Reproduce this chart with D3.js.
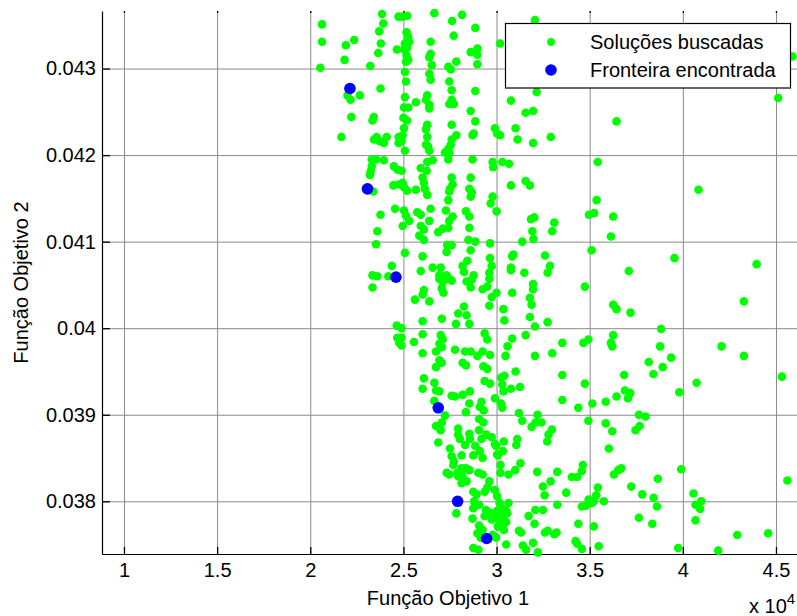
<!DOCTYPE html>
<html><head><meta charset="utf-8">
<script src="https://cdn.jsdelivr.net/npm/d3@7/dist/d3.min.js"></script>
<style>
body{margin:0;background:#fff}
svg{display:block}
text{font-family:"Liberation Sans",Arial,Helvetica,sans-serif}
</style>
</head><body>
<svg id="chart" width="797" height="616"></svg>
<script>
// Função Objetivo 1 values are in units of 10^4 (axis shows "x 10^4")
const solucoesX = [
2.063,2.063,2.054,2.191,2.236,2.184,2.322,2.385,2.392,2.370,2.379,2.365,2.465,2.474,2.200,2.216,2.266,2.377,2.220,2.341,
2.334,2.167,2.356,2.342,2.373,2.395,2.410,2.474,2.474,2.330,2.353,2.395,2.330,2.324,2.320,2.449,2.469,2.338,2.446,2.475,
2.455,2.377,2.360,2.353,2.438,2.334,2.360,2.419,2.334,2.464,2.467,2.478,
2.520,2.496,2.666,2.815,2.761,2.886,2.770,2.517,2.526,2.531,2.508,2.520,2.503,2.517,2.526,2.514,2.646,2.646,2.639,2.652,
2.861,2.897,2.897,2.897,2.784,2.741,2.754,2.508,2.514,2.639,2.646,2.746,2.759,2.759,2.746,2.771,2.886,2.508,2.503,2.526,
2.567,2.628,2.621,2.639,2.639,2.861,2.886,2.500,2.520,2.503,2.496,2.490,2.508,2.628,2.621,2.628,2.621,2.633,2.639,2.759,
2.784,2.759,2.754,2.741,2.723,2.746,2.741,2.871,2.877,2.991,3.003,2.871,2.979,2.982,2.657,2.628,2.625,2.593,2.490,2.496,
2.503,2.520,2.567,2.603,2.610,2.615,2.628,2.759,2.764,2.750,2.746,2.861,2.854,2.867,2.861,2.741,2.979,2.968,3.000,2.503,
2.514,2.496,2.574,2.593,2.531,2.646,2.728,2.836,2.854,2.639,2.593,2.610,2.585,2.610,2.764,2.746,2.741,2.711,2.687,2.854,
2.849,2.886,2.965,2.735,2.759,2.732,2.861,2.508,2.603,2.843,2.818,2.825,2.965,2.974,2.961,2.657,2.700,2.593,2.693,2.732,
2.877,
2.562,2.603,2.610,2.639,2.693,2.711,2.715,2.706,2.746,2.759,2.839,2.867,2.861,2.925,2.950,2.961,2.974,2.961,2.603,2.603,
2.556,2.603,2.706,2.794,2.825,2.839,2.782,2.854,2.936,2.950,2.490,2.490,2.490,2.700,2.711,2.693,2.706,2.675,2.777,2.831,
2.861,2.897,2.925,2.965,2.818,2.836,2.693,2.706,2.675,2.929,2.950,2.610,2.603,2.666,2.675,2.693,2.936,2.965,2.991,2.759,
2.777,2.818,2.857,2.854,2.836,2.666,2.919,2.910,2.931,2.906,2.929,2.723,2.706,2.675,2.700,2.794,2.794,2.803,2.854,2.857,
2.831,2.906,2.919,2.945,2.974,2.991,2.687,2.750,2.759,2.886,2.875,2.925,2.910,3.003,2.812,2.771,2.812,2.836,2.854,2.812,
2.794,2.821,2.839,2.746,2.732,2.768,2.790,2.812,2.902,2.925,2.961,2.950,2.936,2.875,2.893,2.880,2.906,2.875,2.991,3.003,
2.784,2.943,2.965,2.974,2.936,3.003,2.991,3.009,2.871,2.906,2.925,2.897,2.915,2.875,2.902,2.979,
3.206,3.019,3.215,3.077,3.156,3.196,3.019,3.102,3.113,3.196,3.291,3.644,3.031,3.067,3.543,3.077,3.156,3.179,3.537,3.496,
3.524,3.626,3.614,3.185,3.203,3.310,3.299,3.192,3.198,3.138,3.510,3.090,3.084,3.077,3.077,3.260,3.287,3.274,3.149,
3.000,3.084,3.196,3.196,3.179,3.188,3.474,3.626,3.644,3.037,3.042,3.179,3.206,3.274,3.084,3.059,3.048,3.156,3.353,3.299,
3.206,3.466,3.493,3.614,3.621,3.626,3.024,3.042,3.031,3.037,3.077,3.126,3.102,3.353,3.474,3.024,3.031,3.353,3.439,3.514,
3.586,3.644,3.685,3.689,3.120,3.138,3.188,3.220,3.241,3.209,3.493,3.586,3.621,3.603,3.279,3.297,3.272,3.039,3.111,3.106,
2.998,3.007,3.034,3.021,3.021,3.064,3.100,3.128,3.218,3.326,3.290,3.249,3.258,3.374,3.404,3.433,3.458,3.463,3.544,3.535,
3.522,3.494,3.512,3.576,3.481,3.458,3.064,3.016,3.028,3.052,3.016,3.057,3.034,3.052,3.016,3.039,2.998,3.007,3.172,3.208,
3.249,3.204,3.326,3.120,3.132,3.260,3.274,3.310,3.322,3.439,3.424,3.433,3.458,3.522,3.052,3.141,3.159,3.196,3.222,3.548,
3.630,3.653,
4.589,4.512,4.084,3.955,3.710,4.396,4.328,3.719,3.883,3.878,3.937,3.817,3.892,3.842,4.208,4.328,4.074,3.981,3.718,3.705,
4.532,3.764,3.800,3.768,3.746,3.669,3.991,3.866,3.723,3.782,3.843,3.861,4.057,4.068,4.093,4.099,4.068,4.561,3.764,3.836,
4.292,4.458,3.975,4.190
];
const solucoesY = [
0.04351,0.04331,0.04301,0.04327,0.04333,0.04310,0.04303,0.04363,0.04352,0.04343,0.04329,0.04318,0.04322,0.04360,0.04269,0.04264,0.04269,0.04277,0.04244,0.04244,
0.04240,0.04221,0.04221,0.04218,0.04216,0.04214,0.04221,0.04221,0.04214,0.04195,0.04195,0.04194,0.04187,0.04181,0.04177,0.04187,0.04183,0.04158,0.04165,0.04166,
0.04138,0.04131,0.04112,0.04097,0.04072,0.04061,0.04060,0.04060,0.04047,0.04003,0.03989,0.03983,
0.04361,0.04360,0.04364,0.04362,0.04355,0.04347,0.04338,0.04342,0.04336,0.04331,0.04329,0.04324,0.04322,0.04315,0.04310,0.04308,0.04331,0.04317,0.04313,0.04304,
0.04319,0.04323,0.04316,0.04305,0.04308,0.04302,0.04299,0.04296,0.04285,0.04294,0.04287,0.04285,0.04275,0.04264,0.04259,0.04259,0.04274,0.04267,0.04255,0.04255,
0.04261,0.04269,0.04264,0.04258,0.04254,0.04251,0.04239,0.04243,0.04240,0.04231,0.04223,0.04216,0.04205,0.04235,0.04230,0.04221,0.04212,0.04210,0.04205,0.04235,
0.04223,0.04218,0.04212,0.04207,0.04203,0.04202,0.04195,0.04223,0.04225,0.04231,0.04225,0.04195,0.04192,0.04186,0.04194,0.04192,0.04182,0.04185,0.04182,0.04168,
0.04163,0.04159,0.04160,0.04174,0.04168,0.04161,0.04154,0.04174,0.04166,0.04161,0.04158,0.04174,0.04161,0.04157,0.04152,0.04148,0.04152,0.04144,0.04135,0.04136,
0.04130,0.04118,0.04134,0.04131,0.04124,0.04138,0.04136,0.04135,0.04129,0.04124,0.04118,0.04114,0.04107,0.04102,0.04129,0.04124,0.04116,0.04115,0.04111,0.04116,
0.04102,0.04100,0.04098,0.04096,0.04096,0.04088,0.04090,0.04087,0.04083,0.04078,0.04072,0.04065,0.04081,0.04072,0.04064,0.04070,0.04070,0.04066,0.04061,0.04061,
0.04061,
0.04033,0.04039,0.04044,0.04031,0.04057,0.04053,0.04041,0.04046,0.04057,0.04055,0.04054,0.04056,0.04047,0.04045,0.04048,0.04057,0.04036,0.04026,0.04008,0.03993,
0.03984,0.03971,0.04011,0.04017,0.04025,0.04015,0.04005,0.04005,0.03994,0.03987,0.04000,0.03989,0.03980,0.03992,0.03987,0.03982,0.03978,0.03973,0.03975,0.03973,
0.03973,0.03968,0.03973,0.03969,0.03960,0.03957,0.03963,0.03960,0.03955,0.03956,0.03953,0.03942,0.03930,0.03937,0.03928,0.03927,0.03939,0.03936,0.03919,0.03922,
0.03921,0.03923,0.03927,0.03913,0.03903,0.03916,0.03915,0.03909,0.03905,0.03895,0.03891,0.03899,0.03891,0.03887,0.03882,0.03884,0.03877,0.03872,0.03878,0.03872,
0.03865,0.03882,0.03872,0.03877,0.03874,0.03866,0.03868,0.03861,0.03852,0.03864,0.03853,0.03850,0.03858,0.03854,0.03853,0.03846,0.03838,0.03838,0.03836,0.03833,
0.03829,0.03826,0.03823,0.03831,0.03833,0.03842,0.03833,0.03821,0.03833,0.03831,0.03823,0.03816,0.03811,0.03811,0.03808,0.03800,0.03796,0.03792,0.03813,0.03806,
0.03786,0.03790,0.03787,0.03779,0.03783,0.03789,0.03781,0.03771,0.03780,0.03772,0.03767,0.03763,0.03758,0.03746,0.03744,0.03761,
0.04356,0.04329,0.04273,0.04263,0.04249,0.04251,0.04223,0.04231,0.04218,0.04214,0.04221,0.04239,0.04192,0.04190,0.04192,0.04165,0.04170,0.04165,0.04148,0.04131,
0.04133,0.04129,0.04106,0.04126,0.04128,0.04122,0.04112,0.04112,0.04103,0.04100,0.04090,0.04085,0.04083,0.04070,0.04067,0.04084,0.04072,0.04064,0.04064,
0.04041,0.04041,0.04051,0.04045,0.04035,0.04027,0.04048,0.04027,0.04022,0.04022,0.04009,0.04013,0.04002,0.04007,0.03988,0.03979,0.03968,0.03992,0.03983,0.03971,
0.03968,0.03983,0.03987,0.03983,0.03979,0.03992,0.03943,0.03945,0.03935,0.03927,0.03930,0.03932,0.03950,0.03946,0.03936,0.03913,0.03908,0.03917,0.03908,0.03913,
0.03915,0.03921,0.03946,0.03928,0.03902,0.03893,0.03886,0.03900,0.03891,0.03891,0.03893,0.03890,0.03881,0.03861,0.03877,0.03883,0.03869,0.03869,0.03872,0.03865,
0.03864,0.03853,0.03858,0.03842,0.03833,0.03831,0.03836,0.03844,0.03834,0.03834,0.03823,0.03817,0.03807,0.03810,0.03828,0.03828,0.03835,0.03842,0.03816,0.03807,
0.03800,0.03802,0.03798,0.03800,0.03795,0.03794,0.03798,0.03798,0.03792,0.03789,0.03785,0.03786,0.03779,0.03776,0.03773,0.03767,0.03758,0.03771,0.03783,0.03790,
0.03790,0.03774,0.03796,0.03766,0.03764,0.03764,0.03766,0.03762,0.03764,0.03774,0.03754,0.03751,0.03745,0.03771,0.03750,0.03749,0.03744,0.03752,0.03741,0.03748,
0.03831,0.03836,
0.04314,0.04266,0.04160,0.04081,0.04066,0.04074,0.04031,0.04018,0.03999,0.03979,0.03966,0.03961,0.03955,0.03947,0.03979,0.03968,0.03937,0.03926,0.03925,0.03919,
0.03944,0.03900,0.03898,0.03887,0.03882,0.03838,0.03837,0.03826,0.03817,0.03808,0.03804,0.03794,0.03809,0.03796,0.03791,0.03800,0.03778,0.03824,0.03781,0.03774,
0.03761,0.03763,0.03746,0.03743
];
const fronteiraX = [2.213, 2.307, 2.460, 2.687, 2.791, 2.947];
const fronteiraY = [0.04277, 0.04161, 0.04059, 0.03908, 0.03800, 0.03757];

const xTicks = [1, 1.5, 2, 2.5, 3, 3.5, 4, 4.5];
const xTickLabels = ["1", "1.5", "2", "2.5", "3", "3.5", "4", "4.5"];
const yTicks = [0.038, 0.039, 0.040, 0.041, 0.042, 0.043];
const yTickLabels = ["0.038", "0.039", "0.04", "0.041", "0.042", "0.043"];
const xLimits = [0.882, 4.629];
const yLimits = [0.037391, 0.043665];
const seriesNames = ["Soluções buscadas", "Fronteira encontrada"];
const seriesColors = ["#00ff00", "#0000ff"];

(function () {
const svg = d3.select("#chart");
const W = 797, H = 616;
const pL = 102, pR = 800, pT = 11, pB = 554;
const FONT = 20;

svg.append("rect").attr("width", W).attr("height", H).attr("fill", "#fff");

const x = d3.scaleLinear().domain(xLimits).range([pL, pR]);
const y = d3.scaleLinear().domain(yLimits).range([pB, pT]);

// grid
const gridX = svg.append("g").attr("transform", `translate(0,${pB})`)
  .call(d3.axisBottom(x).tickValues(xTicks).tickSize(-(pB - pT)).tickFormat(""));
gridX.select(".domain").remove();
gridX.selectAll("line").attr("stroke", "#8a8a8a").attr("stroke-width", 1);
const gridY = svg.append("g").attr("transform", `translate(${pL},0)`)
  .call(d3.axisLeft(y).tickValues(yTicks).tickSize(-(pR - pL)).tickFormat(""));
gridY.select(".domain").remove();
gridY.selectAll("line").attr("stroke", "#8a8a8a").attr("stroke-width", 1);

// axes
const xAxis = svg.append("g").attr("transform", `translate(0,${pB})`)
  .call(d3.axisBottom(x).tickValues(xTicks).tickFormat((d, i) => xTickLabels[i])
    .tickSizeInner(-7).tickSizeOuter(0).tickPadding(9));
const yAxis = svg.append("g").attr("transform", `translate(${pL},0)`)
  .call(d3.axisLeft(y).tickValues(yTicks).tickFormat((d, i) => yTickLabels[i])
    .tickSizeInner(-8).tickSizeOuter(0).tickPadding(6));
const topAxis = svg.append("g").attr("transform", `translate(0,${pT})`)
  .call(d3.axisTop(x).tickValues(xTicks).tickFormat("").tickSizeInner(-2).tickSizeOuter(0));
topAxis.select(".domain").remove();
[xAxis, yAxis, topAxis].forEach(g => {
  g.attr("font-family", null).attr("font-size", null);
  g.selectAll("text").attr("font-size", FONT).attr("fill", "#000");
  g.selectAll("line").attr("stroke", "#000").attr("stroke-width", 1.3);
  g.select(".domain").attr("stroke", "#000").attr("stroke-width", 1.2);
});

// scatter points
const sol = solucoesX.map((v, i) => [v, solucoesY[i]]);
svg.append("g").selectAll("circle").data(sol).join("circle")
  .attr("cx", d => x(d[0])).attr("cy", d => y(d[1])).attr("r", 4.3)
  .attr("fill", seriesColors[0]);
const fr = fronteiraX.map((v, i) => [v, fronteiraY[i]]);
svg.append("g").selectAll("circle").data(fr).join("circle")
  .attr("cx", d => x(d[0])).attr("cy", d => y(d[1])).attr("r", 5.8)
  .attr("fill", seriesColors[1]);

// labels
svg.append("text").attr("x", 448).attr("y", 605).attr("text-anchor", "middle")
  .attr("font-size", FONT).text("Função Objetivo 1");
svg.append("text").attr("transform", "translate(28,282.5) rotate(-90)")
  .attr("text-anchor", "middle").attr("font-size", FONT).text("Função Objetivo 2");
const expo = svg.append("text").attr("x", 749).attr("y", 613).attr("font-size", FONT).text("x 10");
expo.append("tspan").attr("font-size", 15).attr("dy", -9).text("4");

// legend
const lg = svg.append("g");
lg.append("rect").attr("x", 505.5).attr("y", 23.5).attr("width", 285).attr("height", 64.5)
  .attr("fill", "#fff").attr("stroke", "#000").attr("stroke-width", 1.2);
const rows = [42, 70];
lg.selectAll("circle").data(seriesNames).join("circle")
  .attr("cx", 551).attr("cy", (d, i) => rows[i]).attr("r", (d, i) => i ? 5.8 : 3.9)
  .attr("fill", (d, i) => seriesColors[i]);
lg.selectAll("text").data(seriesNames).join("text")
  .attr("x", 590).attr("y", (d, i) => rows[i] + 7).attr("font-size", FONT).text(d => d);
})();
</script>
</body></html>
